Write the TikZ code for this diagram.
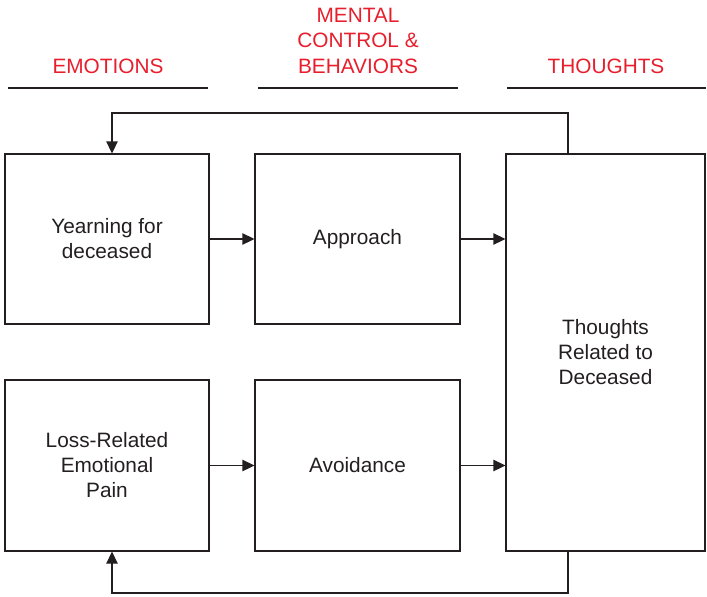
\documentclass[tikz,border=0pt]{standalone}
\usepackage{fontspec}
\setmainfont{Liberation Sans}
\usetikzlibrary{arrows.meta}
\definecolor{headred}{RGB}{232,30,45}
\definecolor{ink}{RGB}{35,31,32}
\tikzset{
  box/.style={draw=ink, line width=1.3pt, rectangle, align=center, inner sep=0pt,
    font=\fontsize{20.8}{25}\selectfont, text=ink},
  head/.style={align=center, text=headred, font=\fontsize{20.8}{25.5}\selectfont, inner sep=0pt},
  rule/.style={draw=ink, line width=1.3pt},
  arr/.style={draw=ink, line width=1.3pt, -{Triangle[length=12pt,width=11.5pt]}},
}
\begin{document}
\begin{tikzpicture}[x=1pt,y=-1pt]
\useasboundingbox (0,0) rectangle (707,597);
% headers
\node[head, anchor=base] (hE) at (108,73) {EMOTIONS};
\node[head, anchor=base] (hM) at (358,73) {BEHAVIORS};
\node[head, anchor=base] (hM2) at (358,47.5) {CONTROL \&};
\node[head, anchor=base] (hM3) at (358,22) {MENTAL};
\node[head, anchor=base] (hT) at (606,73) {THOUGHTS};
\draw[rule] (8,88) -- (208,88);
\draw[rule] (258,88) -- (458,88);
\draw[rule] (507,88) -- (706,88);
% boxes
\node[box, minimum width=204pt, minimum height=170pt] (yearn) at (107,239) {Yearning for\\deceased};
\node[box, minimum width=205pt, minimum height=170pt] (appr) at (357.5,239) {Approach};
\node[box, minimum width=199pt, minimum height=397pt] (thou) at (605.5,352.5) {Thoughts\\Related to\\Deceased};
\node[box, minimum width=204pt, minimum height=171pt] (loss) at (107,465.5) {Loss-Related\\Emotional\\Pain};
\node[box, minimum width=205pt, minimum height=171pt] (avoid) at (357.5,465.5) {Avoidance};
% arrows
\draw[arr] (yearn.east) -- (appr.west);
\draw[arr] (appr.east) -- (appr.east -| thou.west);
\draw[arr] (loss.east) -- (avoid.west);
\draw[arr] (avoid.east) -- (avoid.east -| thou.west);
% feedback loops
\coordinate (tp) at (568,113);
\coordinate (bp) at (568,593);
\draw[arr] (thou.north -| tp) -- (tp) -| ([xshift=5pt]yearn.north);
\draw[arr] (thou.south -| bp) -- (bp) -| ([xshift=5pt]loss.south);
\end{tikzpicture}
\end{document}
